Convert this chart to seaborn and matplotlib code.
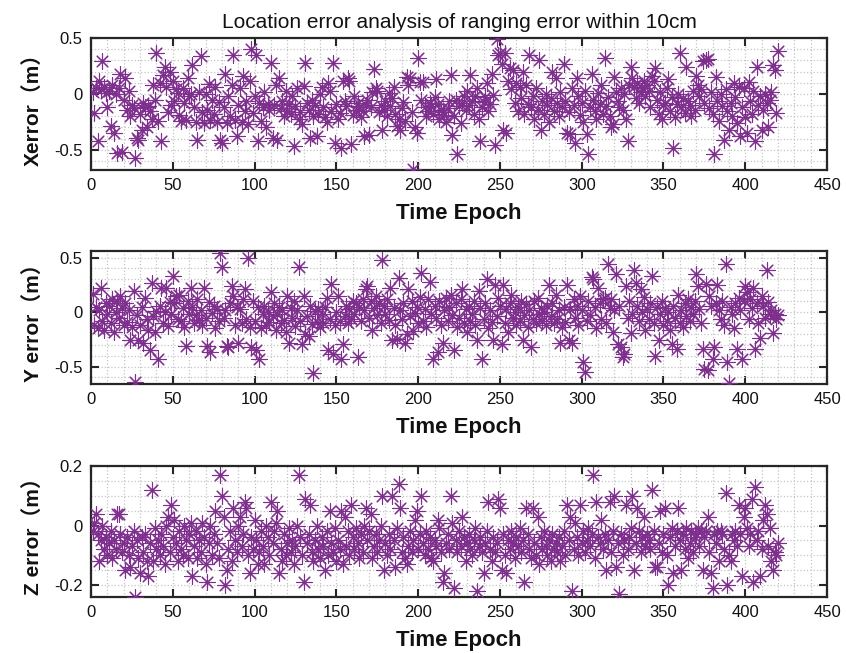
import numpy as np
import pandas as pd
import matplotlib
matplotlib.use("Agg")
import matplotlib.pyplot as plt
from matplotlib.ticker import MultipleLocator
import seaborn as sns

# values (one per epoch, 1..420)
x_err = [
    0.02, -0.17, 0.05, -0.42, 0.12, 0.04, 0.29, 0.06, 0.01, -0.12,
    0.03, -0.29, 0.08, -0.35, 0.00, -0.53, 0.05, 0.18, -0.52, -0.05,
    0.14, -0.14, 0.03, -0.20, -0.10, -0.13, -0.57, -0.39, -0.41, -0.18,
    -0.32, -0.08, -0.12, -0.30, -0.11, -0.15, -0.22, 0.08, -0.05, 0.37,
    -0.24, 0.10, -0.42, 0.17, 0.24, 0.06, -0.16, 0.20, -0.10, 0.12,
    -0.06, 0.04, 0.01, -0.19, -0.24, 0.05, -0.08, -0.23, 0.14, -0.02,
    0.00, 0.26, -0.12, -0.25, -0.41, 0.02, 0.34, -0.16, -0.26, 0.00,
    -0.14, 0.09, -0.23, -0.05, -0.18, 0.06, -0.25, -0.07, -0.41, -0.44,
    -0.12, 0.18, -0.26, -0.02, -0.20, 0.08, 0.35, -0.23, -0.38, -0.10,
    0.05, -0.25, 0.16, -0.15, -0.06, -0.27, 0.12, 0.40, -0.17, -0.02,
    0.35, -0.42, -0.08, -0.24, -0.12, 0.02, -0.30, -0.09, -0.14, 0.28,
    -0.39, -0.10, 0.08, -0.41, 0.14, -0.13, -0.06, -0.20, 0.03, -0.15,
    -0.09, -0.18, -0.02, -0.47, -0.11, 0.05, -0.22, -0.16, -0.27, 0.07,
    0.28, -0.08, -0.14, -0.39, -0.05, -0.20, -0.10, -0.38, -0.18, 0.00,
    0.06, -0.12, -0.21, -0.25, 0.10, 0.03, -0.15, 0.28, -0.44, -0.09,
    -0.22, -0.17, -0.48, 0.12, -0.06, -0.11, 0.14, 0.12, -0.45, -0.19,
    -0.02, -0.14, -0.08, -0.12, -0.21, -0.15, -0.38, -0.10, -0.05, -0.37,
    -0.12, 0.02, 0.22, 0.05, 0.03, -0.16, -0.10, -0.32, -0.14, -0.06,
    -0.20, 0.01, -0.11, -0.04, 0.06, -0.18, -0.29, -0.22, -0.32, -0.13,
    -0.07, -0.24, 0.15, 0.08, 0.14, -0.16, -0.67, -0.30, -0.35, 0.32,
    0.11, -0.05, 0.11, -0.12, -0.20, -0.15, -0.08, -0.11, -0.18, -0.03,
    0.13, -0.09, -0.22, -0.14, -0.16, -0.19, -0.25, -0.13, -0.06, 0.17,
    -0.37, -0.20, -0.05, -0.54, -0.11, -0.26, -0.08, -0.02, -0.14, 0.03,
    -0.10, 0.17, -0.06, -0.18, -0.02, 0.05, -0.22, -0.42, -0.12, -0.07,
    -0.03, 0.10, -0.15, -0.09, 0.18, -0.01, -0.46, 0.49, 0.35, 0.37,
    0.27, -0.32, 0.37, -0.35, 0.12, 0.23, 0.04, 0.21, -0.08, 0.10,
    -0.15, 0.06, -0.04, 0.20, -0.18, 0.08, -0.09, 0.35, -0.12, -0.02,
    -0.22, 0.05, -0.14, 0.30, -0.32, -0.06, -0.18, 0.00, -0.10, -0.25,
    -0.04, 0.20, -0.15, 0.14, -0.08, -0.20, 0.02, -0.12, 0.27, -0.06,
    -0.35, -0.16, -0.36, 0.05, -0.10, -0.44, 0.14, -0.02, -0.19, -0.08,
    -0.25, 0.03, -0.36, -0.54, -0.12, 0.18, -0.05, -0.15, -0.22, 0.01,
    -0.09, 0.08, -0.18, 0.32, -0.11, -0.03, -0.20, -0.30, -0.27, 0.15,
    0.02, -0.06, -0.12, 0.05, -0.14, 0.00, -0.22, -0.42, 0.08, 0.24,
    0.14, 0.06, -0.04, 0.10, -0.08, 0.02, 0.05, 0.12, -0.02, 0.08,
    0.03, -0.12, 0.16, 0.12, 0.23, -0.05, -0.18, 0.02, -0.22, -0.10,
    -0.08, 0.05, 0.13, -0.15, -0.03, -0.48, -0.21, -0.09, 0.00, 0.37,
    -0.12, -0.04, -0.17, 0.24, -0.06, -0.10, -0.20, 0.03, -0.14, 0.16,
    0.08, -0.02, 0.04, 0.29, -0.08, 0.30, 0.31, -0.13, 0.02, -0.18,
    -0.54, 0.15, -0.06, -0.24, 0.00, -0.11, -0.41, 0.04, -0.15, -0.32,
    -0.08, -0.20, 0.10, -0.03, -0.26, 0.06, -0.38, -0.12, 0.05, -0.21,
    -0.35, 0.11, -0.06, -0.18, 0.03, -0.42, 0.24, -0.10, -0.02, -0.32,
    -0.14, 0.00, -0.08, -0.30, -0.05, 0.02, 0.26, 0.21, -0.17, 0.38,
]
y_err = [
    0.17, -0.12, 0.05, -0.15, 0.02, 0.22, -0.08, -0.16, 0.08, -0.02,
    0.06, -0.10, 0.12, -0.18, 0.00, 0.10, -0.05, 0.15, 0.04, -0.12,
    0.08, -0.09, 0.02, -0.26, -0.14, 0.19, -0.64, -0.03, -0.26, -0.12,
    0.05, -0.28, 0.13, -0.06, -0.16, -0.35, 0.27, -0.04, -0.18, 0.01,
    -0.43, 0.06, 0.22, -0.10, 0.00, 0.22, -0.13, 0.09, -0.02, 0.33,
    0.08, 0.15, -0.06, 0.16, -0.08, 0.04, -0.14, -0.31, 0.10, -0.02,
    0.22, 0.05, -0.10, -0.03, 0.12, -0.07, 0.02, -0.12, 0.22, -0.05,
    -0.31, 0.09, -0.37, -0.01, 0.06, -0.15, 0.03, -0.08, 0.54, 0.41,
    -0.05, 0.02, -0.31, -0.32, 0.08, 0.24, 0.15, -0.12, 0.05, -0.28,
    0.03, -0.10, 0.12, 0.21, -0.06, 0.50, -0.14, -0.32, 0.10, -0.08,
    -0.35, 0.05, -0.43, -0.15, -0.02, 0.06, -0.12, 0.00, -0.09, 0.18,
    -0.04, 0.08, -0.16, -0.02, 0.05, -0.10, 0.02, -0.07, -0.18, 0.15,
    -0.28, 0.04, -0.05, 0.10, -0.13, 0.02, 0.41, -0.08, -0.29, 0.15,
    -0.20, -0.04, -0.22, 0.06, -0.11, -0.56, 0.01, -0.09, 0.03, -0.14,
    -0.02, -0.10, 0.05, 0.13, -0.35, -0.06, 0.26, -0.38, -0.12, 0.00,
    0.15, -0.08, -0.43, -0.29, -0.04, 0.06, -0.10, 0.03, -0.06, 0.10,
    -0.02, 0.08, -0.41, 0.05, -0.08, 0.12, 0.02, 0.21, 0.24, -0.05,
    0.10, -0.16, 0.04, 0.15, -0.03, 0.08, -0.10, 0.48, 0.06, -0.02,
    0.12, -0.07, 0.22, -0.26, 0.04, -0.12, -0.25, 0.31, 0.02, -0.06,
    0.08, -0.28, -0.20, 0.21, -0.04, 0.10, -0.17, -0.01, 0.05, -0.10,
    0.14, 0.36, -0.08, 0.03, -0.14, 0.12, 0.28, -0.02, -0.43, 0.06,
    -0.05, -0.37, 0.10, -0.12, -0.28, 0.02, 0.13, -0.08, 0.05, 0.16,
    -0.03, -0.35, 0.08, -0.14, -0.05, 0.12, 0.21, -0.10, 0.03, -0.18,
    0.06, -0.08, -0.02, 0.10, -0.12, -0.26, 0.19, 0.04, -0.43, -0.06,
    0.08, 0.30, -0.15, 0.02, -0.09, -0.26, 0.25, -0.04, 0.13, 0.06,
    -0.29, 0.25, -0.10, 0.03, -0.18, 0.08, 0.16, -0.05, 0.00, -0.12,
    0.05, -0.08, 0.10, -0.26, -0.03, 0.07, -0.14, 0.02, -0.32, -0.06,
    0.10, -0.10, 0.13, -0.02, 0.04, -0.08, 0.00, -0.12, 0.06, 0.25,
    -0.04, 0.08, -0.10, 0.16, -0.06, 0.02, -0.28, -0.14, 0.05, -0.09,
    0.25, -0.26, 0.03, -0.28, 0.12, -0.05, 0.06, -0.12, 0.15, 0.02,
    -0.46, -0.55, -0.08, 0.10, -0.03, 0.32, 0.30, 0.05, -0.15, 0.22,
    0.08, -0.06, 0.12, 0.13, -0.10, 0.44, 0.04, 0.12, -0.18, 0.02,
    0.35, -0.29, 0.06, -0.32, -0.41, -0.38, 0.24, -0.05, 0.10, -0.19,
    -0.02, 0.39, 0.27, 0.06, -0.08, 0.21, 0.00, 0.14, -0.16, 0.03,
    -0.06, 0.08, 0.33, -0.10, -0.40, 0.05, -0.26, -0.02, 0.10, -0.12,
    0.04, -0.08, 0.00, -0.16, -0.29, 0.06, -0.05, -0.34, 0.16, -0.10,
    0.02, -0.14, 0.08, -0.04, 0.12, -0.08, 0.05, -0.02, 0.10, 0.35,
    0.24, 0.03, -0.10, -0.34, -0.52, 0.26, -0.53, 0.15, 0.06, -0.43,
    -0.32, 0.08, 0.25, 0.02, -0.06, 0.10, -0.12, 0.44, -0.46, -0.65,
    0.05, -0.02, -0.15, 0.08, -0.34, 0.13, 0.02, -0.43, 0.10, 0.24,
    0.18, -0.06, 0.12, 0.04, 0.22, -0.34, 0.08, -0.10, -0.24, 0.15,
    0.06, -0.05, 0.39, 0.09, -0.02, 0.02, -0.19, -0.02, -0.06, -0.03,
]
z_err = [
    -0.02, 0.01, 0.04, -0.03, -0.12, -0.05, 0.00, -0.08, -0.04, -0.10,
    -0.06, -0.02, -0.11, -0.05, -0.08, 0.04, 0.04, -0.03, -0.09, -0.06,
    -0.15, -0.04, -0.10, -0.14, -0.07, -0.02, -0.24, -0.05, -0.11, -0.16,
    -0.04, -0.09, -0.03, -0.12, -0.17, -0.06, 0.12, -0.12, -0.01, -0.08,
    -0.05, -0.10, -0.03, -0.07, -0.13, 0.00, 0.03, -0.09, 0.07, -0.04,
    0.02, -0.06, -0.12, -0.02, -0.08, -0.10, 0.00, -0.05, -0.11, -0.03,
    0.01, -0.17, -0.07, -0.02, -0.11, -0.05, -0.09, 0.01, -0.04, -0.13,
    -0.19, -0.06, 0.00, -0.10, -0.03, 0.05, -0.06, -0.11, 0.17, 0.10,
    0.03, -0.20, -0.15, -0.08, -0.02, -0.12, 0.06, -0.05, -0.09, 0.00,
    0.03, -0.07, -0.03, 0.08, 0.06, -0.10, -0.16, -0.04, -0.08, 0.02,
    -0.05, -0.13, -0.09, -0.02, -0.07, -0.13, 0.00, -0.04, -0.10, 0.08,
    -0.06, -0.02, 0.01, 0.05, -0.16, -0.08, -0.12, -0.03, -0.10, -0.06,
    -0.01, -0.09, -0.05, -0.13, -0.07, 0.00, 0.17, -0.04, -0.10, -0.19,
    0.09, -0.06, -0.03, 0.07, -0.09, -0.12, -0.05, 0.00, -0.08, -0.11,
    -0.04, -0.07, -0.15, -0.02, -0.10, 0.05, -0.06, -0.09, -0.01, -0.12,
    -0.05, -0.08, 0.05, -0.13, 0.03, -0.07, -0.02, -0.10, 0.07, -0.04,
    -0.08, -0.01, -0.06, -0.11, -0.03, -0.09, 0.00, 0.06, -0.05, -0.02,
    0.04, -0.11, -0.07, -0.03, -0.09, -0.05, 0.00, 0.10, -0.15, -0.06,
    -0.10, -0.03, -0.08, 0.10, -0.05, -0.14, -0.01, 0.14, 0.06, -0.09,
    -0.04, -0.11, -0.13, -0.07, -0.02, -0.09, -0.05, 0.02, 0.05, -0.08,
    -0.03, 0.10, -0.06, -0.10, -0.02, -0.08, -0.04, -0.11, -0.12, -0.05,
    -0.07, 0.02, -0.01, -0.09, -0.19, -0.16, -0.06, -0.03, -0.08, 0.10,
    0.01, -0.21, -0.05, -0.09, -0.02, -0.07, 0.03, -0.04, -0.12, -0.06,
    -0.03, -0.08, -0.10, -0.05, -0.01, -0.22, -0.07, -0.04, -0.09, -0.16,
    -0.06, -0.02, 0.08, -0.08, -0.12, -0.04, -0.09, -0.06, 0.09, 0.06,
    -0.15, -0.03, -0.10, -0.16, -0.05, -0.08, -0.02, -0.06, -0.11, -0.04,
    -0.07, -0.01, -0.09, -0.05, -0.19, 0.06, -0.03, -0.08, -0.11, 0.06,
    -0.06, -0.10, 0.03, -0.13, -0.04, -0.08, -0.02, -0.07, -0.10, -0.05,
    -0.12, -0.03, -0.08, -0.06, -0.09, -0.04, -0.12, -0.07, -0.02, -0.10,
    0.07, -0.05, 0.03, -0.22, -0.08, 0.01, -0.04, -0.10, 0.07, -0.06,
    -0.02, -0.09, -0.05, -0.01, -0.07, -0.03, 0.17, -0.11, 0.08, -0.04,
    -0.06, 0.02, -0.08, -0.03, -0.15, -0.05, 0.08, -0.09, -0.02, 0.10,
    -0.14, -0.06, -0.23, -0.03, -0.10, -0.05, 0.07, -0.08, -0.04, -0.01,
    0.10, -0.15, -0.06, 0.06, -0.02, -0.09, -0.04, 0.03, -0.07, -0.03,
    -0.05, -0.08, 0.12, -0.02, -0.14, -0.14, -0.06, 0.05, -0.09, -0.03,
    0.06, -0.10, -0.20, -0.04, -0.01, -0.16, -0.07, -0.02, 0.06, -0.05,
    -0.15, -0.03, -0.08, -0.01, -0.11, -0.06, -0.02, -0.09, -0.04, -0.03,
    -0.01, -0.07, -0.02, -0.15, -0.04, -0.02, 0.03, -0.09, -0.16, -0.21,
    -0.03, -0.06, -0.02, -0.12, -0.02, -0.03, -0.08, 0.11, -0.20, -0.10,
    -0.12, -0.03, -0.05, -0.02, -0.07, 0.07, -0.03, -0.17, 0.03, 0.06,
    -0.01, -0.07, -0.03, 0.09, -0.19, 0.13, -0.05, -0.02, -0.17, -0.08,
    0.02, 0.07, 0.04, -0.07, -0.01, -0.12, -0.15, -0.09, -0.10, -0.06,
]
epochs = list(range(1, len(x_err) + 1))

title = "Location error analysis of ranging error within 10cm"
ylabels = ["Xerror（m）", "Y error（m）", "Z error（m）"]
ylims = [(-0.68, 0.5), (-0.66, 0.56), (-0.24, 0.2)]
yticks = [[-0.5, 0, 0.5], [-0.5, 0, 0.5], [-0.2, 0, 0.2]]
yminor = [0.1, 0.1, 0.05]
xticks = list(range(0, 451, 50))

df = pd.DataFrame({"epoch": epochs, "x": x_err, "y": y_err, "z": z_err})

sns.set_style("ticks")
plt.rcParams["font.family"] = ["Liberation Sans", "Noto Sans CJK SC", "DejaVu Sans"]
plt.rcParams["text.color"] = "#111111"
plt.rcParams["axes.labelcolor"] = "#111111"
purple = "#7E2F8E"

fig = plt.figure(figsize=(8.46, 6.53), dpi=100)
boxes = [[0.1076, 0.7397, 0.870, 0.2021],
         [0.1076, 0.4119, 0.870, 0.2037],
         [0.1076, 0.0858, 0.870, 0.2006]]

for i, col in enumerate(["x", "y", "z"]):
    ax = fig.add_axes(boxes[i])
    sns.scatterplot(data=df, x="epoch", y=col, ax=ax, marker=(8, 2, 0),
                    s=120, color=purple, edgecolor=purple, linewidth=0.8, zorder=3)
    ax.set_xlim(0, 450)
    ax.set_ylim(*ylims[i])
    ax.set_xticks(xticks)
    ax.set_yticks(yticks[i])
    ax.set_yticklabels([f"{t:g}" for t in yticks[i]])
    ax.xaxis.set_minor_locator(MultipleLocator(10))
    ax.yaxis.set_minor_locator(MultipleLocator(yminor[i]))
    ax.grid(which="both", linestyle=":", color="#c4c4c4", linewidth=0.9, zorder=0)
    ax.set_axisbelow(True)
    ax.tick_params(which="major", direction="in", length=6, width=1.5,
                   top=True, right=True, labelsize=12, color="#262626",
                   labelcolor="#111111", pad=6)
    ax.tick_params(which="minor", length=0)
    for s in ax.spines.values():
        s.set_linewidth(1.6)
        s.set_color("#262626")
    ax.set_xlabel("Time Epoch", fontsize=16, fontweight="bold", labelpad=7)
    ax.set_ylabel(ylabels[i], fontsize=15, fontweight="bold", labelpad=8)
    if i == 0:
        ax.set_title(title, fontsize=15, pad=7)

fig.savefig("out.png", dpi=100)
